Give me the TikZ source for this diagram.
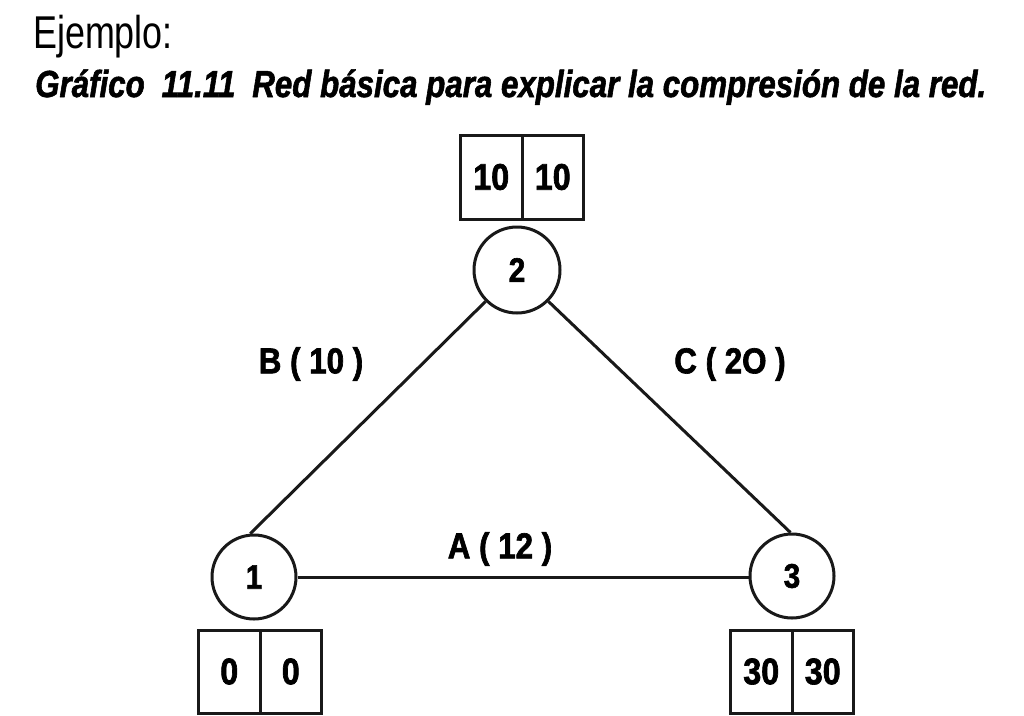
\documentclass[tikz,border=0pt]{standalone}
\usepackage{fontspec}
\setmainfont{Liberation Sans}
\newfontfamily\titlefont{Liberation Sans}[FakeStretch=0.78]
\newfontfamily\capfont{Liberation Sans}[FakeStretch=0.83,FakeBold=1.5]
\newfontfamily\labfont{Liberation Sans}[FakeStretch=0.87,FakeBold=1.8]
\begin{document}
\begin{tikzpicture}[x=1pt,y=-1pt,
  ln/.style={draw=black!90, line width=3pt},
  vnode/.style={circle, ln, minimum size=84pt, inner sep=0pt, font=\labfont\bfseries\fontsize{34}{38}\selectfont},
  cell/.style={rectangle, ln, minimum width=61.5pt, minimum height=83pt, inner sep=0pt, font=\labfont\bfseries\fontsize{37}{40}\selectfont},
  elabel/.style={inner sep=0pt, font=\labfont\bfseries\fontsize{36}{40}\selectfont}]
\useasboundingbox[fill=white] (0,0) rectangle (1024,715);
% headings
\node[anchor=base west, inner sep=0pt, font=\titlefont\fontsize{46}{50}\selectfont] (title) at (33,48) {Ejemplo:};
\node[anchor=base west, inner sep=0pt, font=\capfont\bfseries\itshape\fontsize{37.7}{42}\selectfont] (caption) at (35,97) {Gráfico\hspace{0.45em}11.11\hspace{0.45em}Red básica para explicar la compresión de la red.};
% vertices
\node[vnode] (n1) at (254,577) {1};
\node[vnode, minimum size=86pt] (n2) at (517,270) {2};
\node[vnode] (n3) at (792,576) {3};
% value boxes
\node[cell, minimum height=84pt] (t2l) at (491.25,177) {10};
\node[cell, minimum height=84pt] (t2r) at (552.75,177) {10};
\node[cell] (t1l) at (229.25,671.5) {0};
\node[cell] (t1r) at (290.75,671.5) {0};
\node[cell] (t3l) at (761.25,671.5) {30};
\node[cell] (t3r) at (822.75,671.5) {30};
% activities
\draw[ln] (n1.95) -- (n2.225);
\draw[ln] (n2.-45) -- (n3.92);
\draw[ln] (n1.east) -- (n3.west |- n1.east);
% activity labels
\node[elabel] (lb) at (311,364) {B ( 10 )};
\node[elabel] (lc) at (730,364) {C ( 2O )};
\node[elabel] (la) at (500,549) {A ( 12 )};
\end{tikzpicture}
\end{document}
